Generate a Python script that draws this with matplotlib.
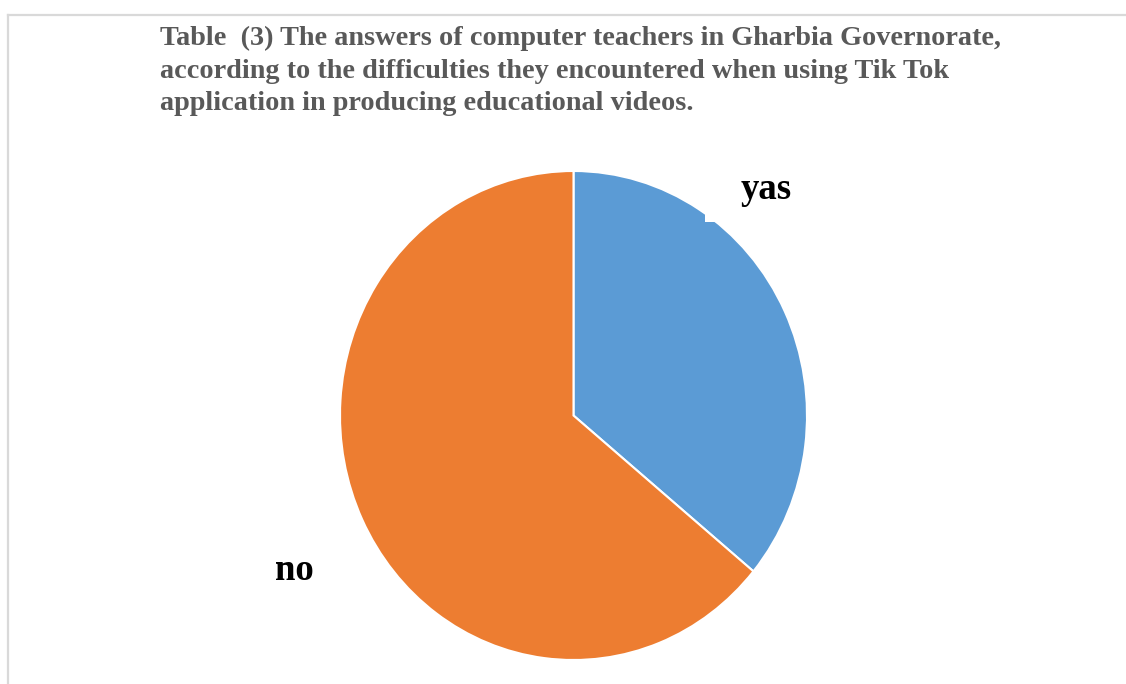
import matplotlib
matplotlib.use("Agg")
import matplotlib.pyplot as plt
from matplotlib.patches import Rectangle
from matplotlib.lines import Line2D

categories = ["yas", "no"]
values = [36, 64]
colors = ["#5b9bd5", "#ed7d31"]
title_lines = [
    "Table  (3) The answers of computer teachers in Gharbia Governorate,",
    "according to the difficulties they encountered when using Tik Tok",
    "application in producing educational videos.",
]

W, H = 1126, 684
fig = plt.figure(figsize=(W / 100, H / 100), dpi=100)
fig.patch.set_facecolor("white")

def fx(px):
    return px / W

def fy(py):
    return 1 - py / H

# chart border (top and left visible)
fig.add_artist(Line2D([fx(8), fx(1126)], [fy(15), fy(15)], color="#d9d9d9", lw=1.6))
fig.add_artist(Line2D([fx(8), fx(8)], [fy(15), fy(684)], color="#d9d9d9", lw=1.6))

# pie axes
left, right, top, bottom = 340, 807, 171, 660
ax = fig.add_axes([fx(left), fy(bottom), (right - left) / W, (bottom - top) / H])
ax.pie(values, colors=colors, startangle=90, counterclock=False,
       wedgeprops=dict(edgecolor="white", linewidth=1.5))
ax.set_aspect("auto")
ax.set_xlim(-1, 1)
ax.set_ylim(-1, 1)
ax.axis("off")

# white label background box for "yas"
fig.add_artist(Rectangle((fx(705), fy(222)), (828 - 705) / W, (222 - 160) / H,
                         transform=fig.transFigure, facecolor="white", edgecolor="none", zorder=5))

fig.text(fx(766), fy(189), categories[0], ha="center", va="center",
         family="Liberation Serif", fontweight="bold", fontsize=26.5, color="black", zorder=6)
fig.text(fx(294), fy(570), categories[1], ha="center", va="center",
         family="Liberation Serif", fontweight="bold", fontsize=26.5, color="black", zorder=6)

ys = [38, 71, 104]
for line, y in zip(title_lines, ys):
    fig.text(fx(160), fy(y), line, ha="left", va="center",
             family="Liberation Serif", fontweight="bold", fontsize=20.3, color="#595959")

fig.savefig("out.png", dpi=100)
